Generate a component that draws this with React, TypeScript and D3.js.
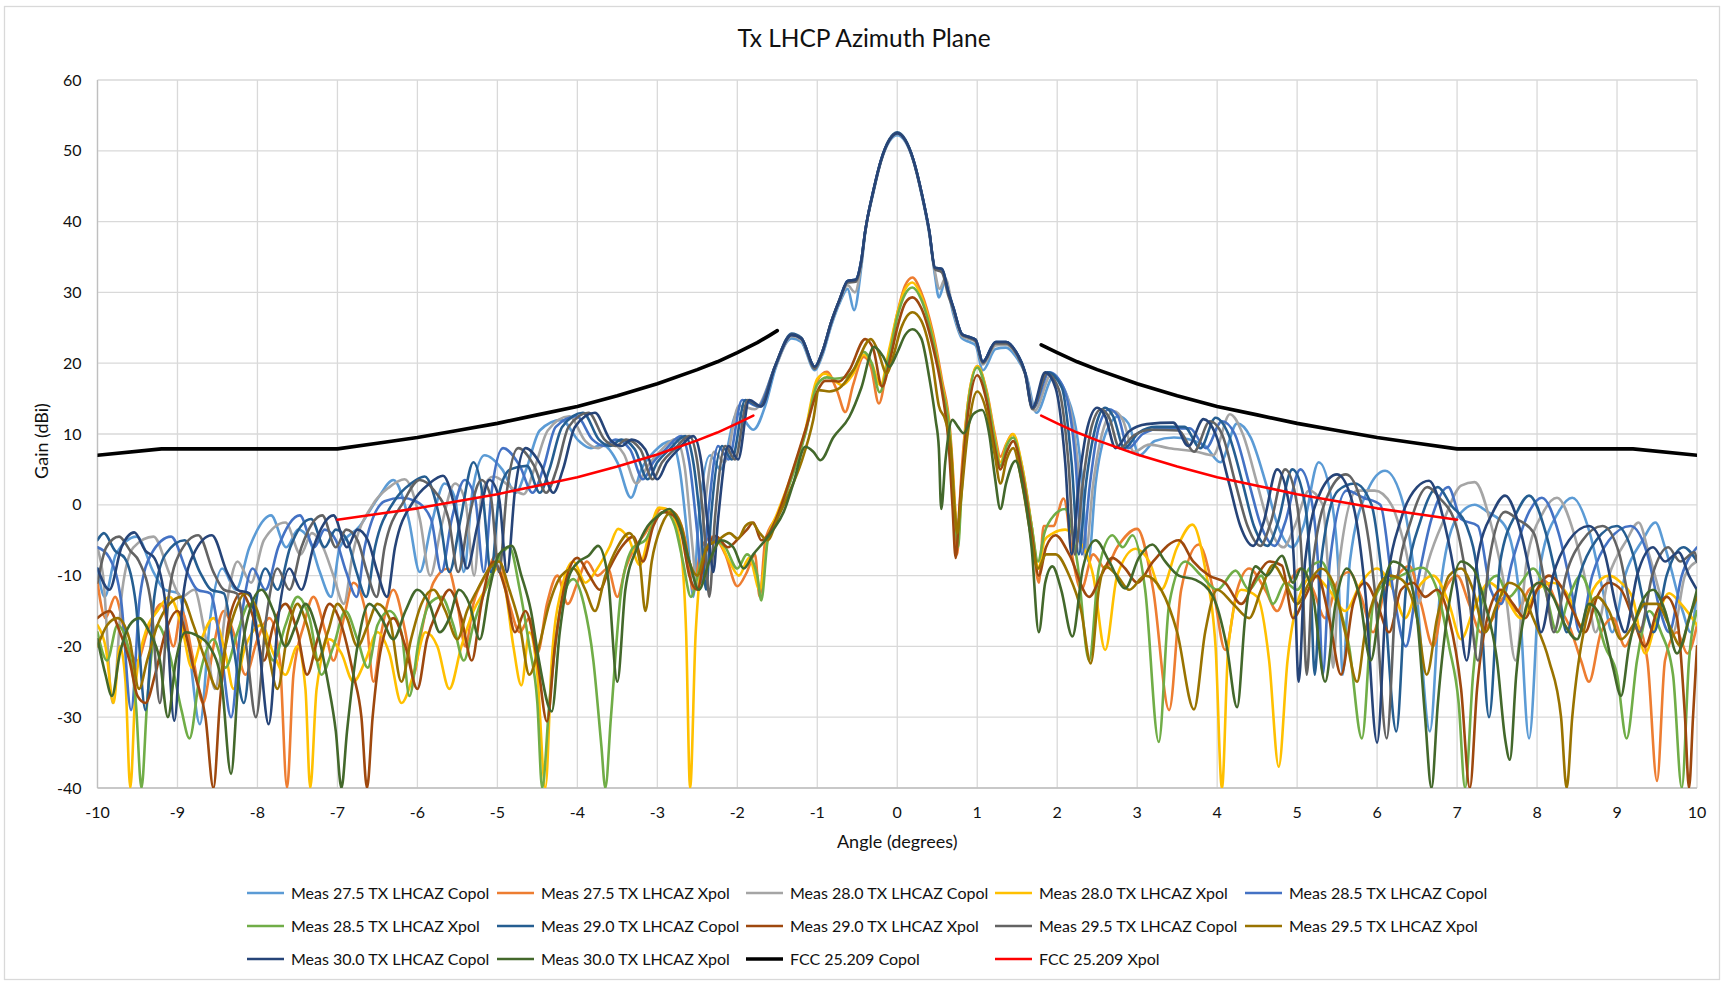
import * as d3 from "d3";
import { useEffect, useRef } from "react";

type Pt = [number, number | null];

// axis ticks
const xTicks = [-10, -9, -8, -7, -6, -5, -4, -3, -2, -1, 0, 1, 2, 3, 4, 5, 6, 7, 8, 9, 10];
const yTicks = [-40, -30, -20, -10, 0, 10, 20, 30, 40, 50, 60];

const copol275: Pt[] = [[-10,-9],[-9.91,-13],[-9.77,-7],[-9.51,-4.5],[-9.3,-9.5],[-9.16,-12],[-8.99,-12.5],[-8.86,-20],[-8.72,-31],[-8.59,-16],[-8.44,-9],[-8.27,-12],[-8.1,-6],[-7.83,-1.5],[-7.64,-6],[-7.49,-3.5],[-7.35,-5],[-7.22,-9.5],[-7.08,-13],[-6.97,-6],[-6.72,-3],[-6.49,1],[-6.3,3.5],[-6.11,-2],[-5.97,-9.5],[-5.83,-3],[-5.66,3],[-5.53,1],[-5.42,-9.5],[-5.31,2],[-5.16,7],[-4.94,5],[-4.77,1.7],[-4.64,5],[-4.47,10.5],[-4.2,12],[-3.98,9],[-3.83,8],[-3.69,8.5],[-3.5,6],[-3.33,1],[-3.2,5],[-3.04,7.5],[-2.83,9],[-2.72,5],[-2.62,-5],[-2.55,-13],[-2.49,-3],[-2.34,7],[-2.21,5],[-2.0,13],[-1.8,10.6],[-1.65,14],[-1.53,19],[-1.32,23.5],[-1.2,23],[-1.03,19],[-0.94,21],[-0.82,25.5],[-0.72,28.5],[-0.62,30.5],[-0.54,27.5],[-0.45,33.5],[-0.4,38.5],[-0.3,44],[-0.2,48.6],[-0.1,51.3],[0,52.2],[0.1,51.3],[0.2,48.6],[0.31,43.5],[0.4,38.3],[0.47,32.5],[0.52,29.3],[0.6,31.5],[0.7,27],[0.81,23.5],[0.9,23],[0.98,22.5],[1.07,19],[1.23,22],[1.36,22.2],[1.48,21],[1.62,18],[1.74,13],[1.95,18],[2.12,15.5],[2.3,5],[2.39,-8],[2.48,3],[2.62,10.5],[2.77,12.5],[2.89,11.5],[3.03,7],[3.22,9],[3.46,9.5],[3.83,8.5],[4.04,6],[4.25,11.5],[4.42,9.5],[4.61,3],[4.76,-3],[4.94,-6],[5.08,-3],[5.27,6],[5.44,0],[5.51,-8],[5.57,-24],[5.66,-8],[5.88,2],[6.1,4.8],[6.33,0],[6.49,-12],[6.66,-32],[6.79,-12],[6.99,-2],[7.22,0],[7.38,-1],[7.6,-3],[7.77,-12],[7.9,-33],[8.05,-8],[8.27,-1],[8.44,1],[8.66,-4],[8.82,-12],[8.94,-18],[9.1,-10],[9.32,-5],[9.48,-2.5],[9.6,-6],[9.82,-15],[9.92,-18],[10,-12]];

const copol280: Pt[] = [[-10,-6],[-9.93,-10],[-9.81,-28],[-9.69,-12],[-9.55,-6],[-9.3,-4.5],[-9.09,-10],[-8.95,-13],[-8.79,-12],[-8.66,-18],[-8.53,-26],[-8.4,-15],[-8.25,-8],[-8.08,-11],[-7.92,-5],[-7.65,-2.5],[-7.46,-7],[-7.32,-4],[-7.18,-6],[-7.05,-10],[-6.92,-14],[-6.81,-7],[-6.56,0],[-6.35,2.5],[-6.16,3.6],[-5.97,-2],[-5.84,-10],[-5.7,-3],[-5.53,3],[-5.4,0.5],[-5.29,-10],[-5.19,2],[-5.05,4],[-4.83,2.5],[-4.67,1.5],[-4.54,5],[-4.37,10.5],[-4.1,12.5],[-3.9,9],[-3.74,8],[-3.6,8.8],[-3.42,7.2],[-3.26,3],[-3.12,5.5],[-2.97,7.5],[-2.77,9.3],[-2.66,5.5],[-2.56,-6],[-2.5,-12],[-2.43,-3],[-2.29,7.5],[-2.16,6],[-1.98,14],[-1.78,13.5],[-1.53,19.3],[-1.32,23.8],[-1.2,23.3],[-1.03,19.3],[-0.94,21.3],[-0.82,25.8],[-0.72,28.8],[-0.62,31],[-0.53,30],[-0.45,34],[-0.4,38.6],[-0.3,44.2],[-0.2,48.7],[-0.1,51.4],[0,52.4],[0.1,51.4],[0.2,48.7],[0.31,43.7],[0.4,38.5],[0.47,33],[0.53,30.5],[0.6,32],[0.7,27.5],[0.81,23.8],[0.9,23.4],[0.98,23],[1.07,19.8],[1.23,22.5],[1.36,22.6],[1.48,21.4],[1.61,18.3],[1.72,13.3],[1.92,18.3],[2.1,16],[2.26,5.5],[2.35,-7.5],[2.45,3],[2.58,10.8],[2.71,13.2],[2.82,12],[2.96,7.5],[3.15,8.5],[3.4,8],[3.74,7.5],[3.95,7],[4.16,12.8],[4.32,10],[4.5,3],[4.65,-3],[4.83,-6],[4.97,-3],[5.15,2],[5.32,0],[5.38,-8],[5.45,-23],[5.53,-8],[5.75,2],[5.97,2],[6.18,0],[6.35,-6],[6.51,-14],[6.64,-8],[6.84,-2],[7.05,2.7],[7.22,3.2],[7.43,-3],[7.6,-12],[7.73,-22],[7.87,-8],[8.08,-1],[8.25,1],[8.46,-4],[8.63,-12],[8.73,-18],[8.9,-10],[9.12,-5],[9.27,-2.5],[9.4,-7],[9.6,-15],[9.7,-18],[9.85,-10],[10,-8]];

const copol285: Pt[] = [[-10,-6],[-9.85,-7.5],[-9.7,-14],[-9.58,-29],[-9.47,-13],[-9.33,-7],[-9.08,-4.5],[-8.88,-9.5],[-8.75,-12],[-8.59,-12.5],[-8.46,-20],[-8.33,-30],[-8.2,-16],[-8.06,-9],[-7.9,-12],[-7.74,-6],[-7.47,-1.5],[-7.29,-6],[-7.16,-3.5],[-7.02,-5],[-6.89,-9.5],[-6.76,-13],[-6.66,-6],[-6.41,0.5],[-6.2,1],[-6.02,0.5],[-5.83,-2],[-5.7,-9.5],[-5.57,-2],[-5.41,3.5],[-5.28,1],[-5.17,-9.5],[-5.07,2],[-4.93,8],[-4.72,5.5],[-4.56,1.7],[-4.43,5],[-4.27,11],[-4.01,12.5],[-3.81,9.2],[-3.66,8.3],[-3.52,9.2],[-3.34,7.8],[-3.18,3.6],[-3.05,6],[-2.9,7.8],[-2.7,9.7],[-2.6,6],[-2.5,-4],[-2.44,-11],[-2.37,-2],[-2.24,8.3],[-2.11,6.4],[-1.94,14.8],[-1.74,13.9],[-1.53,19.5],[-1.32,24],[-1.2,23.5],[-1.03,19.5],[-0.94,21.5],[-0.82,26],[-0.72,29],[-0.62,31.6],[-0.52,31.8],[-0.45,34.5],[-0.4,38.7],[-0.3,44.3],[-0.2,48.8],[-0.1,51.5],[0,52.5],[0.1,51.5],[0.2,48.8],[0.31,43.8],[0.4,38.7],[0.47,33.5],[0.56,33],[0.64,30],[0.7,27.9],[0.81,24.1],[0.9,23.7],[0.98,23.3],[1.07,20.2],[1.23,23],[1.36,23],[1.48,21.7],[1.6,18.6],[1.7,13.7],[1.9,18.7],[2.08,16.5],[2.23,6],[2.31,-7],[2.41,3],[2.52,11],[2.65,13.5],[2.76,12.5],[2.89,8],[3.07,10],[3.31,10.8],[3.66,10.8],[3.86,8],[4.06,11.8],[4.22,10],[4.4,3],[4.55,-3],[4.72,-5.8],[4.85,-2.5],[5.04,5],[5.19,0],[5.26,-8],[5.32,-24],[5.41,-8],[5.62,2],[5.83,1],[6.04,0],[6.2,-12],[6.36,-20],[6.49,-12],[6.68,-2],[6.89,2.5],[7.05,-2],[7.26,-3],[7.42,-12],[7.55,-14],[7.69,-8],[7.9,-1],[8.06,1],[8.27,-4],[8.43,-12],[8.53,-18],[8.69,-10],[8.9,-5],[9.17,-3],[9.38,-7],[9.54,-15],[9.65,-18],[9.81,-10],[10,-6]];

const copol290: Pt[] = [[-10,-5],[-9.92,-4],[-9.78,-6.5],[-9.66,-7.5],[-9.52,-14],[-9.4,-29],[-9.29,-13],[-9.15,-7],[-8.91,-5],[-8.72,-9.5],[-8.58,-12],[-8.42,-12.5],[-8.3,-20],[-8.17,-28],[-8.05,-16],[-7.9,-9],[-7.75,-12],[-7.59,-6],[-7.33,-2],[-7.16,-6],[-7.02,-3.5],[-6.88,-5],[-6.76,-9.5],[-6.64,-13],[-6.53,-6],[-6.29,0.5],[-6.08,3],[-5.91,4],[-5.72,-2],[-5.6,-9.5],[-5.46,-2],[-5.3,6],[-5.18,1],[-5.08,-9.5],[-4.97,2],[-4.84,5],[-4.63,5.5],[-4.47,1.7],[-4.35,5],[-4.19,11],[-3.93,13],[-3.73,9.2],[-3.59,8.3],[-3.45,9.2],[-3.28,7.8],[-3.12,3.6],[-3.0,6],[-2.85,7.8],[-2.65,9.7],[-2.55,6],[-2.45,-4],[-2.39,-12],[-2.33,-2],[-2.19,8.3],[-2.07,6.4],[-1.9,14.8],[-1.72,13.9],[-1.53,19.5],[-1.32,24.2],[-1.2,23.6],[-1.03,19.5],[-0.94,21.5],[-0.82,26],[-0.72,29],[-0.62,31.6],[-0.52,31.8],[-0.45,34.5],[-0.4,38.7],[-0.3,44.3],[-0.2,48.8],[-0.1,51.6],[0,52.6],[0.1,51.6],[0.2,48.8],[0.31,43.8],[0.4,38.7],[0.47,33.5],[0.56,33.3],[0.64,30],[0.7,27.9],[0.81,24.1],[0.9,23.7],[0.98,23.3],[1.07,20.2],[1.23,23],[1.36,23],[1.48,21.7],[1.6,18.6],[1.69,13.7],[1.88,18.7],[2.06,16.5],[2.18,6],[2.27,-7],[2.36,3],[2.48,11],[2.6,13.7],[2.7,12.5],[2.84,8],[3.02,10.2],[3.24,11],[3.59,11],[3.79,8],[3.98,12.3],[4.14,10],[4.32,3],[4.46,-3],[4.63,-5.8],[4.76,-2.5],[4.94,5],[5.1,0],[5.16,-8],[5.22,-24],[5.3,-8],[5.51,2],[5.72,3],[5.93,0],[6.08,-12],[6.24,-32],[6.36,-12],[6.55,-2],[6.76,2.5],[6.92,0],[7.12,-3],[7.28,-12],[7.4,-30],[7.54,-8],[7.75,-1],[7.9,1.3],[8.11,-4],[8.27,-12],[8.37,-18],[8.53,-10],[8.74,-5],[9.0,-3],[9.2,-7],[9.36,-15],[9.46,-18],[9.62,-10],[9.83,-6],[10,-8]];

const copol295: Pt[] = [[-10,-11],[-9.89,-6],[-9.73,-4.5],[-9.59,-6.5],[-9.48,-8],[-9.33,-14],[-9.22,-28],[-9.11,-13],[-8.98,-7],[-8.74,-4.3],[-8.55,-9.5],[-8.42,-12],[-8.26,-12.5],[-8.14,-20],[-8.02,-30],[-7.89,-16],[-7.75,-9],[-7.6,-12],[-7.45,-6],[-7.19,-1.5],[-7.02,-6],[-6.89,-3.5],[-6.75,-5],[-6.63,-9.5],[-6.51,-13],[-6.41,-6],[-6.17,0.5],[-5.97,3.5],[-5.79,2],[-5.61,-2],[-5.49,-9.5],[-5.36,-2],[-5.2,3.5],[-5.08,1],[-4.98,-9.5],[-4.88,2],[-4.74,8],[-4.54,5.5],[-4.39,1.7],[-4.26,5],[-4.11,11],[-3.86,13],[-3.66,9.2],[-3.52,8.3],[-3.39,9.2],[-3.21,7.8],[-3.06,3.6],[-2.94,6],[-2.79,7.8],[-2.6,9.7],[-2.5,6],[-2.41,-4],[-2.35,-13],[-2.28,-2],[-2.15,8.3],[-2.03,6.4],[-1.87,14.8],[-1.71,13.9],[-1.53,19.5],[-1.32,24],[-1.2,23.5],[-1.03,19.2],[-0.94,21.5],[-0.82,26],[-0.72,29],[-0.62,31.4],[-0.52,31.5],[-0.45,34.3],[-0.4,38.6],[-0.3,44.2],[-0.2,48.7],[-0.1,51.5],[0,52.5],[0.1,51.5],[0.2,48.7],[0.31,43.7],[0.4,38.6],[0.47,33.3],[0.56,32.8],[0.64,29.5],[0.7,27.7],[0.81,24],[0.9,23.6],[0.98,23.1],[1.07,20],[1.23,22.8],[1.36,22.8],[1.48,21.5],[1.6,18.4],[1.69,13.5],[1.87,18.5],[2.02,16.3],[2.14,6],[2.22,-7],[2.32,3],[2.43,11],[2.55,13.5],[2.65,12.3],[2.78,8],[2.96,9.8],[3.18,10.6],[3.52,10.5],[3.71,7.5],[3.91,11.8],[4.06,10],[4.23,3],[4.38,-3],[4.54,-5.8],[4.67,-2.5],[4.85,5],[5.0,0],[5.06,-8],[5.12,-24],[5.2,-8],[5.41,2],[5.61,4.3],[5.81,0],[5.97,-12],[6.12,-33],[6.24,-12],[6.43,-2],[6.63,2.5],[6.78,1],[6.99,-3],[7.14,-12],[7.26,-22],[7.4,-8],[7.6,-1],[7.75,-2],[7.96,-4],[8.11,-12],[8.21,-18],[8.36,-10],[8.57,-5],[8.82,-3],[9.03,-7],[9.18,-15],[9.28,-18],[9.44,-10],[9.64,-6],[9.79,-8],[9.97,-6.7],[10,-8]];

const copol300: Pt[] = [[-10,-9],[-9.85,-12],[-9.7,-6],[-9.54,-3.9],[-9.4,-6.5],[-9.29,-7.5],[-9.15,-14],[-9.04,-30.5],[-8.93,-13],[-8.8,-7],[-8.57,-4.3],[-8.38,-9.5],[-8.25,-12],[-8.1,-12.5],[-7.98,-20],[-7.86,-31],[-7.74,-16],[-7.6,-9],[-7.45,-12],[-7.3,-6],[-7.05,-1.5],[-6.88,-6],[-6.75,-3.5],[-6.62,-5],[-6.5,-9.5],[-6.38,-13],[-6.28,-6],[-6.05,0.5],[-5.85,3],[-5.68,4.1],[-5.5,-2],[-5.38,-9],[-5.25,-3],[-5.1,3.5],[-4.98,1],[-4.88,-9.5],[-4.78,2],[-4.65,8],[-4.45,5.5],[-4.3,1.7],[-4.18,5],[-4.03,11],[-3.78,13],[-3.59,9.2],[-3.45,8.3],[-3.32,9.2],[-3.15,7.8],[-3.0,3.6],[-2.88,6],[-2.74,7.8],[-2.55,9.7],[-2.45,6],[-2.36,-4],[-2.3,-9.5],[-2.24,-2],[-2.11,8.3],[-1.99,6.4],[-1.85,14.8],[-1.7,13.9],[-1.53,19.5],[-1.32,24],[-1.2,23.5],[-1.03,19.5],[-0.94,21.5],[-0.82,26],[-0.72,29],[-0.62,31.6],[-0.52,31.8],[-0.45,34.5],[-0.4,38.7],[-0.3,44.3],[-0.2,48.8],[-0.1,51.5],[0,52.5],[0.1,51.5],[0.2,48.8],[0.31,43.8],[0.4,38.7],[0.47,33.5],[0.56,33.3],[0.64,30],[0.7,27.9],[0.81,24.1],[0.9,23.7],[0.98,23.3],[1.07,20.2],[1.23,23],[1.36,23],[1.48,21.7],[1.6,18.6],[1.69,13.7],[1.85,18.7],[1.98,16.5],[2.1,6],[2.18,-7],[2.27,3],[2.38,11],[2.5,13.7],[2.6,12.5],[2.73,8],[2.9,10.4],[3.12,11.4],[3.45,11.6],[3.64,8.3],[3.83,12.1],[3.98,10],[4.15,3],[4.29,-3],[4.45,-5.8],[4.58,-2.5],[4.75,5],[4.9,0],[4.96,-8],[5.02,-25],[5.1,-8],[5.3,2],[5.5,4.3],[5.7,0],[5.85,-12],[6.0,-33.6],[6.12,-12],[6.3,-2],[6.5,2.5],[6.65,3.4],[6.85,-3],[7.0,-12],[7.12,-22],[7.25,-8],[7.45,-1],[7.6,1.3],[7.8,-4],[7.95,-12],[8.05,-18],[8.2,-10],[8.4,-5],[8.65,-3],[8.85,-7],[9.0,-15],[9.1,-18],[9.25,-10],[9.45,-6],[9.6,-8],[9.77,-6.7],[9.9,-10],[10,-12]];

// measured cross-pol cuts
const xpol275: Pt[] = [[-10,-11],[-9.9,-16],[-9.78,-13],[-9.62,-20],[-9.5,-22],[-9.38,-18],[-9.2,-14],[-9.05,-20],[-8.95,-15],[-8.8,-22],[-8.68,-28],[-8.55,-20],[-8.42,-15],[-8.3,-18],[-8.15,-24],[-8.0,-19],[-7.85,-16],[-7.72,-22],[-7.63,-40],[-7.55,-24],[-7.42,-17],[-7.3,-13],[-7.15,-18],[-7.05,-22],[-6.92,-16],[-6.8,-11],[-6.65,-15],[-6.55,-25],[-6.45,-18],[-6.3,-12],[-6.15,-18],[-6.05,-24],[-5.95,-18],[-5.8,-11],[-5.62,-9],[-5.5,-14],[-5.4,-20],[-5.3,-14],[-5.15,-10],[-5.0,-7],[-4.85,-14],[-4.72,-18],[-4.6,-16],[-4.5,-21],[-4.38,-14],[-4.25,-10],[-4.12,-14],[-4.0,-11],[-3.88,-8],[-3.75,-10],[-3.62,-9],[-3.5,-13],[-3.4,-9],[-3.28,-6],[-3.15,-4],[-3.05,-2],[-2.95,-0.5],[-2.8,-1],[-2.65,-5],[-2.55,-12],[-2.45,-6],[-2.3,-4.5],[-2.15,-7],[-2.0,-11.5],[-1.88,-9.5],[-1.78,-7],[-1.72,-13],[-1.65,-5],[-1.5,-1.5],[-1.36,2.7],[-1.15,10.2],[-1.0,17.5],[-0.88,18.8],[-0.75,16],[-0.65,13.1],[-0.55,17],[-0.42,20.9],[-0.33,19.5],[-0.23,14.3],[-0.12,20],[0,27],[0.1,31],[0.19,32.1],[0.3,30],[0.44,24.6],[0.56,17.6],[0.66,10.6],[0.72,0],[0.75,-7],[0.79,2],[0.88,14],[1.0,19.6],[1.12,16],[1.22,10],[1.29,6.8],[1.36,8.5],[1.44,10],[1.55,6],[1.68,-3],[1.77,-11],[1.83,-3],[1.95,-3],[2.08,0.9],[2.2,-8],[2.3,-12],[2.45,-7],[2.6,-9],[2.75,-6],[3.0,-3.4],[3.2,-12],[3.4,-29],[3.55,-12],[3.77,-5.6],[3.95,-12],[4.1,-20.5],[4.25,-12],[4.4,-9],[4.6,-12],[4.75,-15],[4.9,-11],[5.05,-9],[5.2,-12],[5.35,-16],[5.5,-11],[5.65,-9.5],[5.8,-13],[5.95,-18],[6.1,-12],[6.25,-10],[6.4,-8.6],[6.55,-14],[6.7,-20],[6.85,-12],[7.0,-10],[7.15,-14],[7.3,-18],[7.45,-16],[7.6,-13],[7.75,-15],[7.9,-12],[8.1,-10.8],[8.25,-14],[8.4,-17],[8.55,-22],[8.65,-25],[8.8,-18],[8.95,-16],[9.1,-20],[9.25,-17],[9.38,-22],[9.5,-39],[9.6,-22],[9.75,-18],[9.88,-21],[10,-17]];

const xpol280: Pt[] = [[-10,-17],[-9.9,-20],[-9.8,-28],[-9.72,-20],[-9.65,-25],[-9.59,-40],[-9.52,-25],[-9.4,-18],[-9.25,-15],[-9.1,-13],[-8.95,-17],[-8.82,-23],[-8.7,-19],[-8.55,-16],[-8.4,-21],[-8.3,-26],[-8.15,-20],[-7.95,-17],[-7.8,-21],[-7.65,-24],[-7.5,-20],[-7.4,-26],[-7.34,-40],[-7.26,-26],[-7.1,-19],[-6.95,-21],[-6.8,-25],[-6.65,-22],[-6.5,-18],[-6.35,-21],[-6.2,-28],[-6.05,-24],[-5.9,-18],[-5.75,-20],[-5.6,-26],[-5.45,-20],[-5.3,-15],[-5.15,-12],[-5.0,-9],[-4.9,-12],[-4.8,-20],[-4.7,-25.5],[-4.6,-18],[-4.5,-24],[-4.4,-40],[-4.32,-22],[-4.2,-12],[-4.05,-8],[-3.9,-11],[-3.75,-9],[-3.6,-6],[-3.49,-3.4],[-3.35,-5],[-3.22,-8.5],[-3.1,-4],[-2.98,-0.4],[-2.85,-0.8],[-2.72,-5],[-2.64,-18],[-2.59,-40],[-2.52,-18],[-2.4,-6],[-2.25,-5],[-2.1,-8],[-1.98,-10],[-1.85,-7.5],[-1.72,-12],[-1.62,-4.8],[-1.5,-1.2],[-1.36,3],[-1.15,10.5],[-1.0,17.8],[-0.9,18.5],[-0.78,17.5],[-0.69,16.9],[-0.55,18.5],[-0.42,21.2],[-0.32,20],[-0.21,16.9],[-0.1,22],[0,27],[0.1,30.5],[0.19,31.4],[0.3,29.5],[0.44,24],[0.56,17],[0.66,10],[0.72,0],[0.76,-5],[0.8,2],[0.88,14],[1.0,19.6],[1.12,15.8],[1.22,9.5],[1.29,6],[1.37,8.7],[1.45,10],[1.56,5.5],[1.68,-3],[1.77,-9],[1.84,-5],[1.95,-4],[2.1,-3.5],[2.27,-5],[2.45,-10],[2.6,-20.5],[2.75,-10],[2.98,-6.2],[3.15,-8],[3.3,-12],[3.5,-6],[3.69,-2.8],[3.85,-9],[3.98,-20],[4.06,-40],[4.14,-20],[4.3,-12],[4.5,-13],[4.65,-22],[4.77,-37],[4.88,-22],[5.0,-14],[5.2,-10],[5.4,-12],[5.6,-15],[5.8,-11],[6.0,-9],[6.2,-12],[6.35,-16],[6.5,-12],[6.7,-10],[6.9,-14],[7.05,-19],[7.2,-15],[7.4,-11],[7.6,-13],[7.8,-16],[8.0,-12],[8.2,-11],[8.4,-13],[8.55,-17],[8.7,-12],[8.9,-10],[9.05,-11],[9.2,-13.3],[9.35,-21],[9.5,-16],[9.65,-12.5],[9.8,-14],[10,-17]];

const xpol285: Pt[] = [[-10,-18],[-9.88,-22],[-9.75,-17],[-9.62,-20],[-9.52,-28],[-9.45,-40],[-9.38,-28],[-9.25,-17],[-9.1,-21],[-8.95,-29],[-8.85,-33],[-8.72,-24],[-8.55,-19],[-8.4,-23],[-8.25,-18],[-8.1,-14],[-7.95,-17],[-7.8,-22],[-7.65,-17],[-7.5,-13],[-7.35,-16],[-7.2,-24],[-7.05,-20],[-6.9,-15],[-6.75,-19],[-6.62,-23],[-6.5,-17],[-6.35,-15],[-6.2,-18],[-6.1,-27],[-5.98,-19],[-5.85,-14],[-5.7,-13],[-5.55,-17],[-5.42,-22],[-5.3,-17],[-5.15,-12],[-5.0,-8],[-4.85,-6],[-4.72,-12],[-4.6,-20],[-4.5,-28],[-4.44,-40],[-4.35,-28],[-4.2,-14],[-4.05,-10.5],[-3.92,-14],[-3.8,-22],[-3.7,-34],[-3.65,-40],[-3.58,-30],[-3.45,-12],[-3.3,-6],[-3.15,-5],[-3.0,-1.5],[-2.9,-1],[-2.78,-3],[-2.68,-8],[-2.58,-13],[-2.45,-8],[-2.3,-5],[-2.15,-6],[-2.0,-9],[-1.88,-7],[-1.75,-10],[-1.7,-13.5],[-1.62,-5],[-1.5,-1.8],[-1.36,2.5],[-1.15,10],[-1.0,17],[-0.88,18],[-0.78,17.8],[-0.65,18],[-0.55,19],[-0.42,21.6],[-0.32,20],[-0.22,15.9],[-0.1,21],[0,26.5],[0.1,29.8],[0.19,30.7],[0.3,29],[0.44,23.6],[0.56,16.6],[0.66,9.6],[0.72,-1],[0.76,-6],[0.8,1],[0.88,13.5],[1.0,19.4],[1.12,15.5],[1.22,9],[1.29,5.5],[1.37,8.4],[1.45,9.5],[1.56,5],[1.68,-3],[1.76,-8],[1.84,-4],[1.96,-1.5],[2.1,-0.6],[2.25,-8],[2.4,-22],[2.52,-9],[2.69,-4.3],[2.82,-6],[2.94,-4.3],[3.1,-12],[3.27,-33.5],[3.4,-14],[3.6,-8],[3.8,-10],[4.0,-12],[4.23,-9.3],[4.4,-12],[4.55,-10],[4.7,-14],[4.85,-11],[5.0,-12],[5.15,-9],[5.3,-8],[5.45,-12],[5.65,-20],[5.81,-33],[5.95,-14],[6.1,-11],[6.3,-10],[6.56,-8.9],[6.75,-12],[6.9,-20],[7.02,-28],[7.1,-40],[7.2,-24],[7.35,-12],[7.5,-10],[7.65,-13],[7.8,-11],[7.95,-9],[8.1,-12],[8.25,-18],[8.4,-13],[8.55,-10],[8.7,-14],[8.85,-20],[9.0,-24],[9.12,-33],[9.25,-22],[9.4,-15],[9.55,-18],[9.7,-24],[9.81,-40],[9.9,-22],[10,-15]];

const xpol290: Pt[] = [[-10,-16],[-9.85,-15],[-9.72,-18],[-9.6,-22],[-9.5,-27],[-9.4,-28],[-9.28,-24],[-9.15,-18],[-9.0,-15],[-8.88,-19],[-8.78,-24],[-8.65,-30],[-8.55,-40],[-8.47,-28],[-8.35,-16],[-8.2,-12.5],[-8.05,-16],[-7.92,-22],[-7.8,-17],[-7.65,-14],[-7.5,-18],[-7.38,-24],[-7.25,-19],[-7.1,-14],[-6.95,-17],[-6.8,-24],[-6.7,-30],[-6.63,-40],[-6.56,-30],[-6.45,-20],[-6.3,-16],[-6.15,-20],[-6.0,-26],[-5.88,-19],[-5.75,-15],[-5.6,-12],[-5.45,-16],[-5.32,-22],[-5.2,-14],[-5.05,-8],[-4.9,-12],[-4.78,-18],[-4.65,-15],[-4.5,-22],[-4.38,-30.6],[-4.28,-20],[-4.15,-11],[-4.0,-7.5],[-3.85,-10],[-3.72,-12],[-3.6,-9],[-3.45,-6],[-3.3,-4.5],[-3.18,-8],[-3.05,-3],[-2.92,-1],[-2.8,-1.5],[-2.7,-4],[-2.6,-10],[-2.5,-12],[-2.4,-7],[-2.27,-4.4],[-2.12,-6],[-1.99,-4.8],[-1.88,-3.5],[-1.8,-2.5],[-1.7,-5],[-1.6,-4],[-1.48,-1],[-1.36,3],[-1.15,10.5],[-1.0,16],[-0.9,17.5],[-0.8,17.5],[-0.73,17.4],[-0.6,19],[-0.4,23.4],[-0.3,22],[-0.19,16.7],[-0.08,21],[0,25],[0.1,28.5],[0.19,29.3],[0.3,27.8],[0.44,22.6],[0.56,16],[0.64,9],[0.69,0],[0.73,-7.5],[0.78,0],[0.88,12.5],[1.0,18.3],[1.12,14.5],[1.22,8],[1.29,5],[1.37,7.5],[1.45,9],[1.56,4.5],[1.68,-4],[1.77,-10],[1.86,-6],[1.98,-4.3],[2.15,-7],[2.4,-13],[2.55,-10],[2.69,-7.5],[2.85,-9],[3.0,-11],[3.2,-8],[3.52,-5],[3.7,-8],[3.9,-10],[4.1,-11],[4.3,-14],[4.5,-10],[4.65,-8],[4.81,-8.6],[4.95,-16],[5.1,-13],[5.25,-10],[5.4,-16],[5.55,-24],[5.7,-14],[5.85,-11],[6.0,-14],[6.15,-18],[6.3,-12],[6.45,-11],[6.6,-13],[6.75,-12],[6.9,-16],[7.05,-26],[7.16,-40],[7.25,-26],[7.4,-15],[7.55,-12],[7.7,-14],[7.85,-16],[8.0,-12],[8.15,-10],[8.3,-11.5],[8.45,-15],[8.6,-18],[8.75,-13],[8.9,-11],[9.05,-12],[9.2,-16],[9.35,-20],[9.5,-15],[9.62,-13],[9.75,-16],[9.85,-30],[9.9,-40],[9.95,-30],[10,-20]];

const xpol295: Pt[] = [[-10,-20],[-9.88,-17],[-9.75,-16],[-9.6,-19],[-9.48,-26],[-9.38,-22],[-9.25,-17],[-9.1,-14],[-8.95,-13],[-8.8,-17],[-8.65,-22],[-8.5,-26],[-8.4,-20],[-8.28,-15],[-8.15,-12.5],[-8.0,-15],[-7.88,-20],[-7.75,-26],[-7.62,-18],[-7.5,-14],[-7.38,-17],[-7.25,-22],[-7.12,-18],[-7.0,-14],[-6.88,-16],[-6.75,-20],[-6.62,-17],[-6.5,-14],[-6.35,-16],[-6.2,-25],[-6.08,-19],[-5.95,-14],[-5.8,-12],[-5.65,-15],[-5.5,-19],[-5.38,-15],[-5.25,-12],[-5.1,-9],[-4.98,-8],[-4.85,-12],[-4.72,-17],[-4.6,-24],[-4.48,-20],[-4.35,-14],[-4.2,-10],[-4.05,-9],[-3.9,-12],[-3.78,-15],[-3.65,-10],[-3.5,-6],[-3.35,-4],[-3.22,-8],[-3.15,-15],[-3.07,-8],[-2.95,-3],[-2.82,-1],[-2.7,-3],[-2.6,-8],[-2.5,-10],[-2.38,-6],[-2.24,-5],[-2.1,-4],[-1.99,-4.8],[-1.9,-3],[-1.82,-2.5],[-1.72,-4],[-1.62,-5],[-1.5,-2],[-1.36,1.5],[-1.2,6],[-1.05,12],[-0.98,16.2],[-0.85,16],[-0.72,16.5],[-0.55,19],[-0.33,23.4],[-0.25,22],[-0.13,18.5],[-0.05,21],[0.05,25],[0.19,27.2],[0.3,26],[0.44,20],[0.52,14],[0.6,12],[0.67,8],[0.72,-1],[0.75,-4],[0.79,0],[0.88,10],[1.0,16],[1.12,13],[1.22,7],[1.29,3],[1.37,6.5],[1.45,8],[1.56,3],[1.68,-5],[1.76,-9],[1.86,-7],[1.98,-7],[2.15,-10],[2.3,-15],[2.42,-22.4],[2.52,-12],[2.6,-8.7],[2.75,-10],[2.9,-12],[3.1,-10],[3.3,-12],[3.5,-18],[3.71,-28.9],[3.85,-18],[4.0,-12],[4.2,-14],[4.4,-16],[4.55,-12],[4.7,-8.5],[4.85,-11],[5.0,-14],[5.15,-11],[5.3,-9],[5.45,-11],[5.6,-18],[5.75,-25],[5.85,-18],[6.0,-12],[6.15,-10],[6.3,-10.5],[6.5,-16],[6.62,-24],[6.75,-16],[6.9,-10],[7.05,-9],[7.2,-12],[7.35,-18],[7.5,-14],[7.65,-11],[7.8,-12],[7.95,-16],[8.15,-22],[8.3,-30],[8.37,-40],[8.44,-30],[8.6,-17],[8.75,-13],[8.9,-15],[9.05,-19],[9.2,-17],[9.35,-14],[9.5,-14],[9.65,-17],[9.8,-20],[9.9,-16],[10,-13]];

const xpol300: Pt[] = [[-10,-19],[-9.9,-24],[-9.82,-27],[-9.72,-21],[-9.6,-17],[-9.48,-16],[-9.35,-18],[-9.22,-22],[-9.12,-30],[-9.02,-22],[-8.9,-18],[-8.75,-18.5],[-8.6,-20],[-8.45,-25],[-8.33,-38],[-8.24,-25],[-8.1,-15],[-7.95,-12],[-7.8,-15],[-7.65,-20],[-7.52,-17],[-7.4,-14],[-7.25,-18],[-7.12,-25],[-7.02,-32],[-6.95,-40],[-6.88,-32],[-6.75,-20],[-6.6,-14],[-6.45,-16],[-6.3,-19],[-6.15,-15],[-6.0,-12],[-5.85,-14],[-5.72,-18],[-5.6,-16],[-5.48,-12],[-5.35,-14],[-5.22,-19],[-5.1,-12],[-4.98,-7],[-4.82,-5.8],[-4.7,-10],[-4.58,-15],[-4.48,-22],[-4.32,-29.2],[-4.22,-18],[-4.1,-10],[-3.98,-8],[-3.86,-7.2],[-3.74,-5.8],[-3.62,-10],[-3.5,-25],[-3.4,-12],[-3.25,-6],[-3.12,-3],[-2.98,-1.5],[-2.85,-0.6],[-2.72,-3],[-2.6,-8],[-2.48,-12],[-2.35,-8],[-2.2,-5],[-2.05,-6],[-1.92,-9],[-1.8,-7],[-1.65,-5],[-1.55,-3.5],[-1.42,-1],[-1.3,3],[-1.15,8.2],[-1.05,7.5],[-0.96,6.3],[-0.8,9.5],[-0.6,12.4],[-0.45,16.5],[-0.29,22.3],[-0.18,21],[-0.1,19.5],[0,21.5],[0.1,24],[0.19,24.8],[0.3,23.5],[0.4,18],[0.48,12],[0.52,8],[0.55,-0.6],[0.6,6],[0.69,12],[0.76,11],[0.83,10.1],[0.95,12.8],[1.06,13.4],[1.15,10],[1.22,4],[1.29,-0.6],[1.36,3],[1.48,6.2],[1.58,2],[1.68,-6],[1.77,-18],[1.85,-11],[1.94,-8.7],[2.05,-12],[2.19,-18.6],[2.32,-9],[2.48,-5],[2.65,-8],[2.85,-11.8],[3.02,-7.5],[3.19,-5.6],[3.35,-8],[3.52,-10],[3.73,-10.6],[3.95,-13],[4.12,-20],[4.25,-28.6],[4.35,-16],[4.48,-8.7],[4.62,-10],[4.81,-7.2],[4.95,-11],[5.05,-9],[5.2,-13],[5.35,-25],[5.48,-14],[5.62,-9],[5.78,-13],[5.92,-22],[6.05,-13],[6.2,-8],[6.35,-9],[6.5,-16],[6.6,-30],[6.68,-40],[6.76,-28],[6.9,-14],[7.05,-8],[7.2,-9],[7.35,-14],[7.5,-22],[7.6,-33],[7.66,-36],[7.74,-24],[7.9,-13],[8.02,-11],[8.2,-13],[8.35,-17],[8.5,-19],[8.65,-14],[8.8,-16],[8.95,-23],[9.05,-27],[9.15,-20],[9.3,-14],[9.45,-12],[9.6,-15],[9.75,-21],[9.88,-17],[10,-12]];

// FCC 25.209 masks (null = gap across the main beam)
const fccCopol: Pt[] = [[-10,7.0],[-9.2,7.9],[-7,7.9],[-6.5,8.7],[-6,9.5],[-5.5,10.5],[-5,11.5],[-4.5,12.7],[-4,13.9],[-3.5,15.4],[-3,17.1],[-2.5,19.1],[-2.25,20.2],[-2,21.5],[-1.75,22.9],[-1.6,23.9],[-1.5,24.6],[0,null],[1.8,22.6],[2,21.5],[2.25,20.2],[2.5,19.1],[3,17.1],[3.5,15.4],[4,13.9],[4.5,12.7],[5,11.5],[5.5,10.5],[6,9.5],[6.5,8.7],[7,7.9],[9.2,7.9],[10,7.0]];
const fccXpol: Pt[] = [[-7,-2.1],[-6.5,-1.3],[-6,-0.5],[-5.5,0.5],[-5,1.5],[-4.5,2.7],[-4,3.9],[-3.5,5.4],[-3,7.1],[-2.5,9.1],[-2.25,10.2],[-2,11.5],[-1.8,12.6],[0,null],[1.8,12.6],[2,11.5],[2.25,10.2],[2.5,9.1],[3,7.1],[3.5,5.4],[4,3.9],[4.5,2.7],[5,1.5],[5.5,0.5],[6,-0.5],[6.5,-1.3],[7,-2.1]];

const seriesNames = [
  "Meas 27.5 TX LHCAZ Copol", "Meas 27.5 TX LHCAZ Xpol",
  "Meas 28.0 TX LHCAZ Copol", "Meas 28.0 TX LHCAZ Xpol",
  "Meas 28.5 TX LHCAZ Copol", "Meas 28.5 TX LHCAZ Xpol",
  "Meas 29.0 TX LHCAZ Copol", "Meas 29.0 TX LHCAZ Xpol",
  "Meas 29.5 TX LHCAZ Copol", "Meas 29.5 TX LHCAZ Xpol",
  "Meas 30.0 TX LHCAZ Copol", "Meas 30.0 TX LHCAZ Xpol",
  "FCC 25.209 Copol", "FCC 25.209 Xpol",
];
const seriesData = [copol275, xpol275, copol280, xpol280, copol285, xpol285, copol290, xpol290, copol295, xpol295, copol300, xpol300, fccCopol, fccXpol];
const seriesColors = ["#5B9BD5", "#ED7D31", "#A5A5A5", "#FFC000", "#4472C4", "#70AD47", "#255E91", "#9E480E", "#636363", "#997300", "#264478", "#43682B", "#000000", "#FF0000"];

export default function App() {
  const svgRef = useRef<SVGSVGElement | null>(null);

  useEffect(() => {
    if (!svgRef.current) return;
    const svg = d3.select(svgRef.current);
    svg.selectAll("*").remove();

    const width = 1725;
    const height = 984;
    const margin = { top: 80, right: 28, bottom: 196, left: 97.5 };
    const font = "Lato, 'Open Sans', sans-serif";
    const textColor = "#111";

    const x = d3.scaleLinear().domain([-10, 10]).range([margin.left, width - margin.right]);
    const y = d3.scaleLinear().domain([-40, 60]).range([height - margin.bottom, margin.top]);

    svg.attr("width", width).attr("height", height);

    // chart area background + frame
    svg.append("rect")
      .attr("x", 4.5).attr("y", 6.5)
      .attr("width", 1715).attr("height", 973)
      .attr("fill", "#fff").attr("stroke", "#D9D9D9").attr("stroke-width", 1.3);

    svg.append("clipPath").attr("id", "plot-clip")
      .append("rect")
      .attr("x", x(-10)).attr("y", y(60) - 2)
      .attr("width", x(10) - x(-10)).attr("height", y(-40) - y(60) + 2);

    // grid
    const grid = svg.append("g");
    grid.selectAll("line.v").data(xTicks).join("line")
      .attr("x1", (d) => x(d)).attr("x2", (d) => x(d))
      .attr("y1", y(60)).attr("y2", y(-40))
      .attr("stroke", "#D9D9D9").attr("stroke-width", 1.3);
    grid.selectAll("line.h").data(yTicks).join("line")
      .attr("x1", x(-10)).attr("x2", x(10))
      .attr("y1", (d) => y(d)).attr("y2", (d) => y(d))
      .attr("stroke", "#D9D9D9").attr("stroke-width", 1.3);

    // axis lines
    svg.append("line")
      .attr("x1", x(-10)).attr("x2", x(-10)).attr("y1", y(60)).attr("y2", y(-40))
      .attr("stroke", "#BFBFBF").attr("stroke-width", 1.3);
    svg.append("line")
      .attr("x1", x(-10)).attr("x2", x(10)).attr("y1", y(-40)).attr("y2", y(-40))
      .attr("stroke", "#BFBFBF").attr("stroke-width", 1.3);

    // tick labels
    svg.append("g").selectAll("text").data(yTicks).join("text")
      .attr("x", x(-10) - 16).attr("y", (d) => y(d))
      .attr("dy", "0.35em").attr("text-anchor", "end")
      .attr("fill", textColor).style("font-family", font).style("font-size", "16px")
      .text((d) => String(d));
    svg.append("g").selectAll("text").data(xTicks).join("text")
      .attr("x", (d) => x(d)).attr("y", y(-40) + 24)
      .attr("dy", "0.35em").attr("text-anchor", "middle")
      .attr("fill", textColor).style("font-family", font).style("font-size", "16px")
      .text((d) => String(d));

    // series
    const line = d3.line<Pt>()
      .defined((d) => d[1] !== null)
      .x((d) => x(d[0]))
      .y((d) => y(d[1] as number))
      .curve(d3.curveMonotoneX);
    const fccLine = d3.line<Pt>()
      .defined((d) => d[1] !== null)
      .x((d) => x(d[0]))
      .y((d) => y(d[1] as number))
      .curve(d3.curveLinear);

    const plot = svg.append("g").attr("clip-path", "url(#plot-clip)");
    seriesData.forEach((data, i) => {
      const isFcc = i >= 12;
      plot.append("path")
        .datum(data)
        .attr("d", isFcc ? fccLine : line)
        .attr("fill", "none")
        .attr("stroke", seriesColors[i])
        .attr("stroke-width", i === 12 ? 3.6 : 2.6)
        .attr("stroke-linejoin", "round")
        .attr("stroke-linecap", "round");
    });

    // title
    svg.append("text")
      .attr("x", 864).attr("y", 38)
      .attr("dy", "0.35em").attr("text-anchor", "middle")
      .attr("fill", textColor).style("font-family", font).style("font-size", "24.5px")
      .text("Tx LHCP Azimuth Plane");

    // axis titles
    svg.append("text")
      .attr("x", (x(-10) + x(10)) / 2).attr("y", 842)
      .attr("dy", "0.35em").attr("text-anchor", "middle")
      .attr("fill", textColor).style("font-family", font).style("font-size", "18px")
      .text("Angle (degrees)");
    svg.append("text")
      .attr("transform", "rotate(-90)")
      .attr("x", -441).attr("y", 42)
      .attr("dy", "0.35em").attr("text-anchor", "middle")
      .attr("fill", textColor).style("font-family", font).style("font-size", "18px")
      .text("Gain (dBi)");

    // legend
    const colX = [247, 497, 746, 995, 1245];
    const rowY = [893, 926, 959];
    const legend = svg.append("g");
    seriesNames.forEach((name, i) => {
      const cx = colX[i % 5];
      const cy = rowY[Math.floor(i / 5)];
      legend.append("line")
        .attr("x1", cx).attr("x2", cx + 37)
        .attr("y1", cy).attr("y2", cy)
        .attr("stroke", seriesColors[i])
        .attr("stroke-width", i === 12 ? 3.6 : 2.6);
      legend.append("text")
        .attr("x", cx + 44).attr("y", cy)
        .attr("dy", "0.35em")
        .attr("fill", textColor).style("font-family", font).style("font-size", "16px")
        .text(name);
    });
  }, []);

  return (
    <svg ref={svgRef} style={{ position: "absolute", left: 0, top: 0, display: "block" }}></svg>
  );
}
